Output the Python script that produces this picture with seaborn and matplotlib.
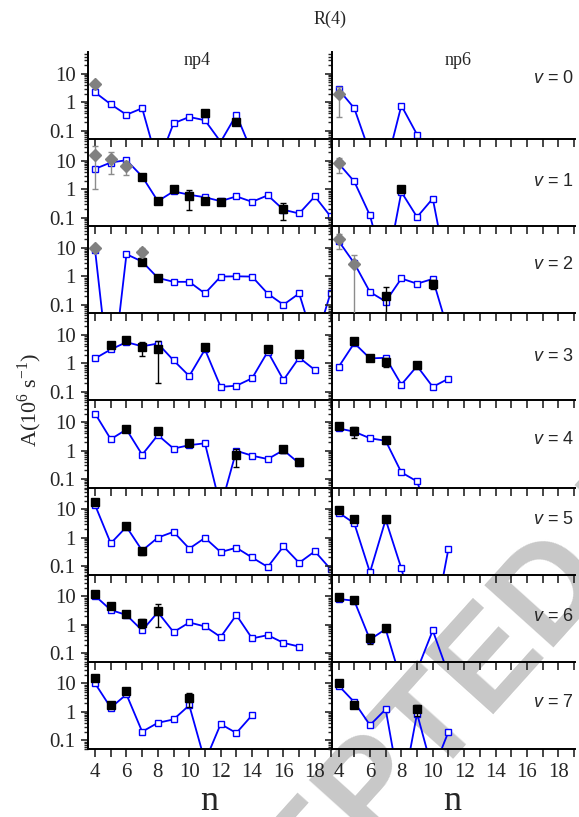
import numpy as np
import pandas as pd
import matplotlib
matplotlib.use("Agg")
import matplotlib.pyplot as plt
import seaborn as sns
from matplotlib.ticker import LogLocator, NullFormatter, FixedLocator

# ---------------- data ----------------
levels = [0, 1, 2, 3, 4, 5, 6, 7]
columns = ["np4", "np6"]
n_start = 4

# calculated A (10^6 s^-1), consecutive n starting at 4
calc_np4_v0 = [2.2, 0.84, 0.36, 0.61, 0.0065, 0.18, 0.30, 0.23, 0.04, 0.36, 0.017]
calc_np4_v1 = [5.2, 8.7, 10.5, 2.8, 0.38, 0.84, 0.64, 0.52, 0.38, 0.56, 0.36, 0.61, 0.19, 0.14, 0.56, 0.11]
calc_np4_v2 = [8.5, 0.0001, 6.0, 3.3, 0.88, 0.64, 0.64, 0.25, 0.98, 1.0, 0.98, 0.245, 0.1, 0.25, 0.004, 0.26]
calc_np4_v3 = [1.5, 3.1, 5.6, 4.0, 5.0, 1.28, 0.36, 3.1, 0.15, 0.164, 0.30, 2.6, 0.26, 1.6, 0.59]
calc_np4_v4 = [20, 2.5, 5.5, 0.71, 3.5, 1.17, 1.54, 1.8, 0.01, 0.98, 0.66, 0.50, 1.03, 0.355]
calc_np4_v5 = [14, 0.63, 2.4, 0.35, 1.0, 1.6, 0.41, 0.98, 0.31, 0.44, 0.2, 0.093, 0.49, 0.13, 0.33, 0.078]
calc_np4_v6 = [10.4, 3.3, 2.2, 0.63, 2.75, 0.55, 1.2, 0.87, 0.37, 2.2, 0.33, 0.43, 0.23, 0.17]
calc_np4_v7 = [10, 1.4, 4.1, 0.2, 0.41, 0.54, 1.7, 0.018, 0.37, 0.18, 0.76]

calc_np6_v0 = [2.8, 0.61, 0.016, 0.005, 0.76, 0.072]
calc_np6_v1 = [8.1, 1.87, 0.12, 0.001, 0.8, 0.105, 0.47, 0.0007]
calc_np6_v2 = [17.5, 2.9, 0.28, 0.13, 0.84, 0.55, 0.81, 0.011]
calc_np6_v3 = [0.75, 5.2, 1.5, 1.58, 0.18, 0.81, 0.15, 0.29]
calc_np6_v4 = [6.0, 4.6, 2.7, 2.2, 0.17, 0.082, 0.002]
calc_np6_v5 = [7.6, 3.2, 0.06, 4.3, 0.082, 0.0007, 0.0005, 0.41]
calc_np6_v6 = [8.0, 7.0, 0.3, 0.7, 0.01, 0.025, 0.63, 0.018]
calc_np6_v7 = [8.4, 2.2, 0.34, 1.23, 0.001, 0.87, 0.008, 0.2]

# experimental (black squares): n, A, error
exp_np4_v0_n = [11, 13];            exp_np4_v0_A = [0.43, 0.20];          exp_np4_v0_e = [0.0, 0.0]
exp_np4_v1_n = [7, 8, 9, 10, 11, 12, 16]
exp_np4_v1_A = [2.8, 0.38, 1.05, 0.56, 0.40, 0.35, 0.20]
exp_np4_v1_e = [0.3, 0.05, 0.15, 0.37, 0.08, 0.08, 0.12]
exp_np4_v2_n = [7, 8];              exp_np4_v2_A = [3.3, 0.9];            exp_np4_v2_e = [0.8, 0.2]
exp_np4_v3_n = [5, 6, 7, 8, 11, 15, 17]
exp_np4_v3_A = [4.6, 6.9, 3.8, 3.2, 3.8, 3.2, 2.2]
exp_np4_v3_e = [0.5, 0.8, 2.0, 3.0, 0.5, 0.4, 0.3]
exp_np4_v4_n = [6, 8, 10, 13, 16, 17]
exp_np4_v4_A = [5.8, 4.8, 1.85, 0.69, 1.1, 0.4]
exp_np4_v4_e = [0.5, 0.5, 0.3, 0.42, 0.3, 0.05]
exp_np4_v5_n = [4, 6, 7];           exp_np4_v5_A = [18, 2.6, 0.33];       exp_np4_v5_e = [2, 0.6, 0.08]
exp_np4_v6_n = [4, 5, 6, 7, 8];     exp_np4_v6_A = [12.5, 4.7, 2.3, 1.14, 3.15]
exp_np4_v6_e = [1.5, 1.0, 0.3, 0.4, 2.3]
exp_np4_v7_n = [4, 5, 6, 10];       exp_np4_v7_A = [15.5, 1.8, 5.2, 3.0];  exp_np4_v7_e = [2, 0.3, 0.5, 1.5]

exp_np6_v0_n = [];                  exp_np6_v0_A = [];                    exp_np6_v0_e = []
exp_np6_v1_n = [8];                 exp_np6_v1_A = [1.0];                 exp_np6_v1_e = [0.1]
exp_np6_v2_n = [7, 10];             exp_np6_v2_A = [0.2, 0.55];           exp_np6_v2_e = [0.22, 0.2]
exp_np6_v3_n = [5, 6, 7, 9];        exp_np6_v3_A = [6.3, 1.58, 1.15, 0.88]; exp_np6_v3_e = [0.5, 0.2, 0.4, 0.1]
exp_np6_v4_n = [4, 5, 7];           exp_np6_v4_A = [7.2, 4.8, 2.3];       exp_np6_v4_e = [0.6, 2.0, 0.3]
exp_np6_v5_n = [4, 5, 7];           exp_np6_v5_A = [9.1, 4.5, 4.5];       exp_np6_v5_e = [0.5, 0.4, 0.4]
exp_np6_v6_n = [4, 5, 6, 7];        exp_np6_v6_A = [9.8, 7.4, 0.34, 0.79]; exp_np6_v6_e = [1.0, 0.6, 0.13, 0.15]
exp_np6_v7_n = [4, 5, 9];           exp_np6_v7_A = [10, 1.8, 1.23];       exp_np6_v7_e = [1.0, 0.2, 0.5]

# other experiment (grey diamonds)
oth_np4_v0_n = [4];          oth_np4_v0_A = [4.2];              oth_np4_v0_e = [0.8]
oth_np4_v1_n = [4, 5, 6];    oth_np4_v1_A = [16.6, 12, 6.7];    oth_np4_v1_e = [15.6, 8.7, 3.5]
oth_np4_v2_n = [4, 7];       oth_np4_v2_A = [9.8, 7.2];         oth_np4_v2_e = [2.0, 2.5]
oth_np6_v0_n = [4];          oth_np6_v0_A = [1.9];              oth_np6_v0_e = [1.6]
oth_np6_v1_n = [4];          oth_np6_v1_A = [8.1];              oth_np6_v1_e = [4.5]
oth_np6_v2_n = [4, 5];       oth_np6_v2_A = [20.5, 2.7];        oth_np6_v2_e = [11, 3.1]

ytick_vals = [0.1, 1, 10]
ytick_labels = ["0.1", "1", "10"]
xtick_vals = [4, 6, 8, 10, 12, 14, 16, 18]
xtick_labels = ["4", "6", "8", "10", "12", "14", "16", "18"]

g = globals()

# ---------------- style ----------------
sns.set_style("ticks")
plt.rcParams["font.family"] = ["Liberation Serif", "DejaVu Serif"]
plt.rcParams["mathtext.fontset"] = "custom"
plt.rcParams["mathtext.rm"] = "Liberation Serif"
plt.rcParams["mathtext.it"] = "Liberation Sans:italic"

W, H = 579, 817
fig = plt.figure(figsize=(W / 100, H / 100), dpi=100)
fig.patch.set_facecolor("white")

# watermark
fig.text(1.171, 0.377, "ACCEPTED MANUSCRIPT", rotation=48, rotation_mode="anchor",
         ha="center", va="baseline", fontsize=97, color="#c8c8c8",
         family="Liberation Sans", fontweight="bold", zorder=-5)

top_px, row_px = 52, 87.1
col_x = [88, 331.5]
col_w = 243.5
label_yfrac = [0.695, 0.515, 0.565, 0.5, 0.55, 0.63, 0.517, 0.53]

blue = "#0000ff"
for r, v in enumerate(levels):
    for c, col in enumerate(columns):
        y0 = 1 - (top_px + row_px * (r + 1)) / H
        ax = fig.add_axes([col_x[c] / W, y0, col_w / W, row_px / H])
        ax.set_facecolor("none")
        ax.set_yscale("log")
        ax.set_xlim(3.55, 19.06)
        ax.set_ylim(0.05, 58)

        vals = g[f"calc_{col}_v{v}"]
        df = pd.DataFrame({"n": np.arange(n_start, n_start + len(vals)), "A": vals})
        sns.lineplot(data=df, x="n", y="A", ax=ax, estimator=None, sort=False,
                     color=blue, lw=1.3, marker="s", markersize=4.6,
                     markerfacecolor="white", markeredgecolor=blue,
                     markeredgewidth=1.0, zorder=2, legend=False)

        on = g.get(f"oth_{col}_v{v}_n")
        if on:
            ax.errorbar(on, g[f"oth_{col}_v{v}_A"], yerr=g[f"oth_{col}_v{v}_e"],
                        fmt="D", color="#808080", ms=6.2, ecolor="#8c8c8c",
                        elinewidth=1.0, capsize=2, capthick=1.0, zorder=4)
        en = g[f"exp_{col}_v{v}_n"]
        if en:
            ax.errorbar(en, g[f"exp_{col}_v{v}_A"], yerr=g[f"exp_{col}_v{v}_e"],
                        fmt="s", color="black", ms=6.2, ecolor="black",
                        elinewidth=1.0, capsize=2, capthick=1.0, zorder=3)

        ax.set_xlabel("")
        ax.set_ylabel("")
        for s in ["top", "right"]:
            ax.spines[s].set_visible(False)
        for s in ["left", "bottom"]:
            ax.spines[s].set_linewidth(1.4)
            ax.spines[s].set_color("black")

        ax.set_yticks(ytick_vals)
        ax.yaxis.set_minor_locator(LogLocator(base=10, subs=np.arange(2, 10), numticks=20))
        ax.yaxis.set_minor_formatter(NullFormatter())
        ax.set_xticks(xtick_vals)
        ax.xaxis.set_minor_locator(FixedLocator([5, 7, 9, 11, 13, 15, 17, 19]))
        ax.tick_params(axis="y", which="major", direction="out", length=5, width=1.2, pad=4)
        ax.tick_params(axis="y", which="minor", direction="out", length=2.6, width=1.0)
        ax.tick_params(axis="x", which="both", direction="out", length=5.5, width=1.2, pad=5)

        if c == 0:
            ax.set_yticklabels(ytick_labels, fontsize=15)
        else:
            ax.set_yticklabels([])
        if r == len(levels) - 1:
            ax.set_xticklabels(xtick_labels, fontsize=15)
        else:
            ax.set_xticklabels([])

        if c == 1:
            ax.text(0.995, label_yfrac[r], f"$v$ = {v}", transform=ax.transAxes,
                    ha="right", va="center", fontsize=13, family="Liberation Sans")
        if r == 0:
            ax.text(0.45 if c == 0 else 0.52, 0.995, col, transform=ax.transAxes,
                    ha="center", va="top", fontsize=13)
        if r == len(levels) - 1:
            fig.text((col_x[c] + col_w / 2 - 1) / W, 1 - 802 / H, "n",
                     ha="center", va="center", fontsize=26)

fig.text(330 / W, 1 - 19 / H, "R(4)", ha="center", va="center", fontsize=13)
fig.text(30 / W, 1 - 400 / H, r"A(10$^{\mathregular{6}}$ s$^{\mathregular{-1}}$)",
         rotation=90, ha="center", va="center", fontsize=16)

fig.savefig("out.png", dpi=100, facecolor="white")
